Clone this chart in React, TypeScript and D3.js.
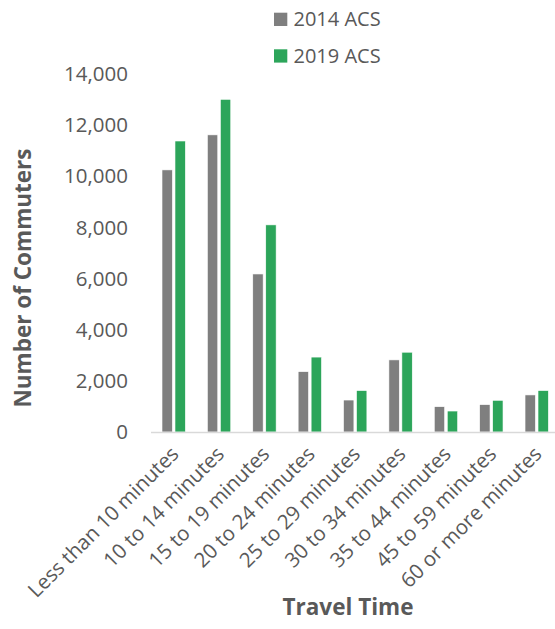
import React from "react";
import * as d3 from "d3";

const categories = [
  "Less than 10 minutes",
  "10 to 14 minutes",
  "15 to 19 minutes",
  "20 to 24 minutes",
  "25 to 29 minutes",
  "30 to 34 minutes",
  "35 to 44 minutes",
  "45 to 59 minutes",
  "60 or more minutes",
];
const seriesNames = ["2014 ACS", "2019 ACS"];
const values2014 = [10250, 11620, 6180, 2360, 1250, 2820, 990, 1070, 1450];
const values2019 = [11380, 13010, 8100, 2930, 1620, 3120, 820, 1240, 1620];
const yTicks = [0, 2000, 4000, 6000, 8000, 10000, 12000, 14000];
const colors = ["#7f7f7f", "#2ca55a"];

const W = 555;
const H = 629;
const FONT = "'Open Sans', sans-serif";
const TEXT = "#595959";

export default function App() {
  const left = 151;
  const right = 559.4;
  const top = 74;
  const bottom = 432;

  const x = d3.scaleBand<string>().domain(categories).range([left, right]).paddingInner(0).paddingOuter(0);
  const y = d3.scaleLinear().domain([0, 14000]).range([bottom, top]);
  const groupW = x.bandwidth() * 0.515;
  const xs = d3.scaleBand<string>().domain(seriesNames).range([0, groupW]).paddingInner(0.2);
  const series = [values2014, values2019];
  const fmt = d3.format(",");

  return (
    <svg width={W} height={H} style={{ position: "absolute", left: 0, top: 0, background: "#fff" }}>
      {/* y tick labels */}
      {yTicks.map((t) => (
        <text key={t} x={128} y={y(t)} dy="0.35em" textAnchor="end" fontFamily={FONT} fontSize={20.5} fill={TEXT}>
          {fmt(t)}
        </text>
      ))}
      {/* bars */}
      {categories.map((c, i) => {
        const gx = (x(c) as number) + (x.bandwidth() - groupW) / 2;
        return (
          <g key={c}>
            {series.map((vals, s) => (
              <rect
                key={s}
                x={gx + (xs(seriesNames[s]) as number)}
                y={y(vals[i])}
                width={xs.bandwidth()}
                height={bottom - y(vals[i])}
                fill={colors[s]}
                stroke="#ffffff"
                strokeWidth={0.6}
              />
            ))}
          </g>
        );
      })}
      {/* x axis line */}
      <line x1={left} x2={right} y1={bottom + 0.5} y2={bottom + 0.5} stroke="#d9d9d9" strokeWidth={1.5} />
      {/* x tick labels */}
      {categories.map((c) => {
        const cx = (x(c) as number) + x.bandwidth() / 2;
        return (
          <text
            key={c}
            transform={`translate(${cx - 4},${bottom + 13}) rotate(-45)`}
            dy="0.71em"
            textAnchor="end"
            fontFamily={FONT}
            fontSize={20.5}
            fill={TEXT}
          >
            {c}
          </text>
        );
      })}
      {/* axis titles */}
      <text
        transform={`translate(31,${278}) rotate(-90)`}
        textAnchor="middle"
        fontFamily={FONT}
        fontSize={22.5}
        fontWeight="bold"
        fill={TEXT}
      >
        Number of Commuters
      </text>
      <text x={348} y={615} textAnchor="middle" fontFamily={FONT} fontSize={22.5} fontWeight="bold" fill={TEXT}>
        Travel Time
      </text>
      {/* legend */}
      {seriesNames.map((n, i) => (
        <g key={n} transform={`translate(274,${12.7 + i * 36.6})`}>
          <rect x={0} y={0} width={13.3} height={13.3} fill={colors[i]} />
          <text x={19.5} y={13.3} fontFamily={FONT} fontSize={20} fill={TEXT}>
            {n}
          </text>
        </g>
      ))}
    </svg>
  );
}
